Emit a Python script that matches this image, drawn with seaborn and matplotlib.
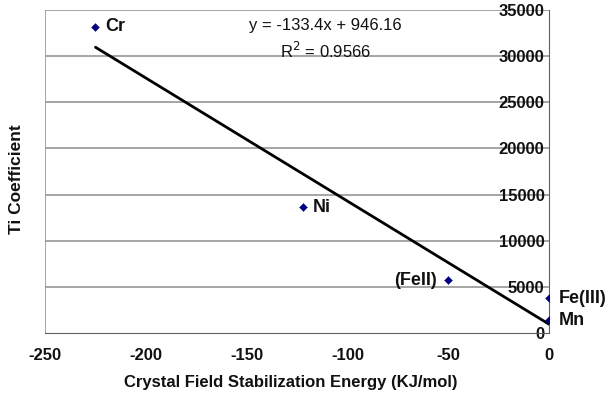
import numpy as np
import pandas as pd
import matplotlib
matplotlib.use("Agg")
import matplotlib.pyplot as plt
import seaborn as sns

# -------------------- DATA --------------------
ions = ["Cr", "Ni", "(FeII)", "Fe(III)", "Mn"]
cfse = [-225, -122, -50, 0, 0]
ti_coef = [33200, 13650, 5750, 3800, 1400]

slope = -133.4
intercept = 946.16
r_squared = 0.9566

x_ticks = [-250, -200, -150, -100, -50, 0]
y_ticks = [0, 5000, 10000, 15000, 20000, 25000, 30000, 35000]


# -------------------- PLOT --------------------
def main():
    df = pd.DataFrame({"Ion": ions, "CFSE": cfse, "Ti": ti_coef})

    sns.set_style("white")
    plt.rcParams["font.family"] = ["Liberation Sans", "DejaVu Sans"]
    plt.rcParams["axes.unicode_minus"] = False
    plt.rcParams["text.color"] = "#111111"

    fig = plt.figure(figsize=(6.09, 3.98), dpi=100)
    ax = fig.add_axes([0.074, 0.163, 0.828, 0.812])

    # trendline from the reported equation
    line_x = np.array([min(cfse), max(cfse)])
    sns.lineplot(x=line_x, y=slope * line_x + intercept, color="black",
                 linewidth=2, ax=ax)

    sns.scatterplot(data=df, x="CFSE", y="Ti", marker="D", s=16,
                    color="#000080", edgecolor="#000080", ax=ax, zorder=5)

    ax.set_xlim(-250, 0)
    ax.set_ylim(0, 35000)
    ax.set_xticks(x_ticks)
    ax.set_yticks(y_ticks)

    for y in y_ticks[1:]:
        ax.axhline(y, color="#969696", linewidth=1.2, zorder=0)
    ax.axvline(-250, color="#969696", linewidth=1.2, zorder=0)

    for s in ["top", "right"]:
        ax.spines[s].set_visible(False)
    ax.spines["left"].set_position(("data", 0))
    ax.spines["left"].set_color("#606060")
    ax.spines["bottom"].set_color("#606060")
    ax.tick_params(axis="y", direction="inout", length=7, color="#606060",
                   labelsize=12, pad=0, labelcolor="#111111")
    ax.tick_params(axis="x", direction="out", length=4, color="#606060",
                   labelsize=12, pad=7, labelcolor="#111111")
    for lab in ax.get_xticklabels() + ax.get_yticklabels():
        lab.set_fontweight("bold")

    # point labels
    offsets = {"Cr": (7, 0, "left"), "Ni": (7, 0, "left"),
               "(FeII)": (-8, 0, "right"), "Fe(III)": (7, 0, "left"),
               "Mn": (7, 0, "left")}
    for ion, x, y in zip(ions, cfse, ti_coef):
        dx, dy, ha = offsets[ion]
        ax.annotate(ion, (x, y), xytext=(dx, dy), textcoords="offset points",
                    ha=ha, va="center", fontsize=13, fontweight="bold",
                    annotation_clip=False)

    ax.text(-111, 33350, f"y = {slope}x + {intercept}", ha="center",
            va="center", fontsize=12)
    ax.text(-111, 30550, f"R$^2$ = {r_squared}", ha="center",
            va="center", fontsize=12)

    ax.set_xlabel("")
    ax.set_ylabel("")
    fig.text(0.477, 0.038, "Crystal Field Stabilization Energy (KJ/mol)",
             ha="center", va="center", fontsize=12, fontweight="bold")
    fig.text(0.027, 0.55, "Ti Coefficient", rotation=90, ha="center",
             va="center", fontsize=12.5, fontweight="bold")

    fig.savefig("out.png", dpi=100)


if __name__ == "__main__":
    main()
